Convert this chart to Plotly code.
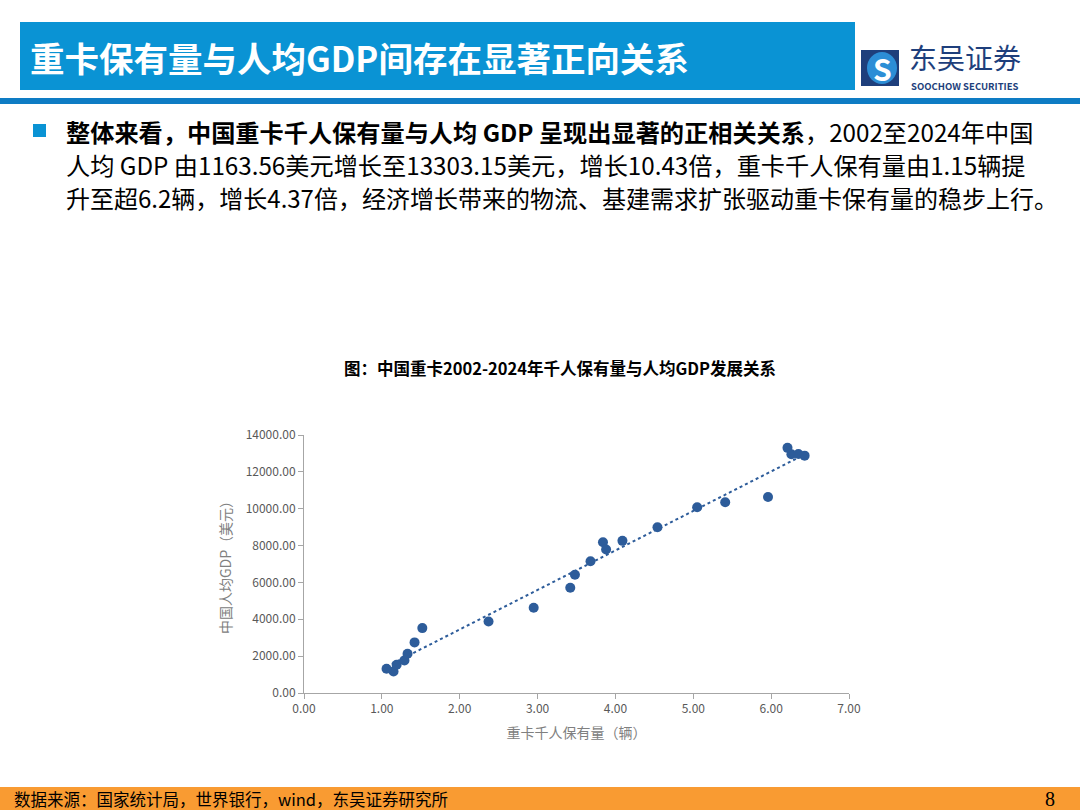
import numpy as np
import plotly.graph_objects as go

# 重卡千人保有量（辆）与人均GDP（美元），2002-2024
years = list(range(2002, 2025))
trucks_per_k = [1.15, 1.06, 1.19, 1.29, 1.33, 1.42, 1.52, 2.37, 2.95, 3.42, 3.48, 3.68,
                3.84, 3.88, 4.09, 4.54, 5.05, 5.41, 5.96, 6.26, 6.35, 6.43, 6.21]
gdp_per_cap = [1163.56, 1320, 1535, 1770, 2131, 2746, 3522, 3884, 4624, 5708, 6413, 7153,
               8183, 7785, 8255, 8996, 10080, 10350, 10640, 12952, 12970, 12880, 13303.15]

x_ticks = [0, 1, 2, 3, 4, 5, 6, 7]
y_ticks = [0, 2000, 4000, 6000, 8000, 10000, 12000, 14000]

W, H = 1080, 810


def px(x):
    return x / W


def py(y):
    return 1 - y / H


FONT = "Noto Sans CJK SC"
BLUE = "#2D5C9A"

# linear trendline fitted to the points
k, b = np.polyfit(trucks_per_k, gdp_per_cap, 1)
tx = np.array([min(trucks_per_k), max(trucks_per_k)])

fig = go.Figure()
fig.add_trace(go.Scatter(
    x=tx, y=k * tx + b, mode="lines",
    line=dict(color=BLUE, width=2, dash="dot"),
    hoverinfo="skip", showlegend=False,
))
fig.add_trace(go.Scatter(
    x=trucks_per_k, y=gdp_per_cap, mode="markers",
    marker=dict(color=BLUE, size=10),
    text=years, showlegend=False,
))

shapes = [
    # header box
    dict(type="rect", x0=px(20), x1=px(855), y0=py(90), y1=py(22),
         fillcolor="#0A93D4", line_width=0, layer="below"),
    # blue rule under header
    dict(type="rect", x0=0, x1=1, y0=py(104), y1=py(98),
         fillcolor="#0E7CC4", line_width=0, layer="below"),
    # logo square
    dict(type="rect", x0=px(861), x1=px(899), y0=py(86), y1=py(50),
         fillcolor="#1E3F7C", line_width=0),
    dict(type="circle", x0=px(867), x1=px(897), y0=py(84), y1=py(52),
         fillcolor="#2C8ED6", line_width=0),
    # bullet square
    dict(type="rect", x0=px(33), x1=px(46), y0=py(137), y1=py(124),
         fillcolor="#0A93D4", line_width=0),
    # footer bar
    dict(type="rect", x0=0, x1=1, y0=0, y1=py(787),
         fillcolor="#F99B32", line_width=0, layer="below"),
]
for s in shapes:
    s.update(xref="paper", yref="paper")


def note(text, x, y, size, color="black", anchor="left", family=FONT):
    return dict(text=text, x=px(x), y=py(y), xref="paper", yref="paper",
                xanchor=anchor, yanchor="middle", showarrow=False,
                font=dict(family=family, size=size, color=color))


annotations = [
    note("<b>重卡保有量与人均GDP间存在显著正向关系</b>", 28, 57, 34.5, "white"),
    note("<b>S</b>", 882, 68, 30, "white", "center"),
    note("东吴证券", 907, 57, 28, "#1E3F7C"),
    note("<b>SOOCHOW SECURITIES</b>", 909, 86, 9.5, "#1E3F7C"),
    note("<b>整体来看，中国重卡千人保有量与人均 GDP 呈现出显著的正相关关系</b>，2002至2024年中国", 64, 131, 24.2),
    note("人均 GDP 由1163.56美元增长至13303.15美元，增长10.43倍，重卡千人保有量由1.15辆提", 64, 164, 24.2),
    note("升至超6.2辆，增长4.37倍，经济增长带来的物流、基建需求扩张驱动重卡保有量的稳步上行。", 64, 197, 24),
    note("<b>图：中国重卡2002-2024年千人保有量与人均GDP发展关系</b>", 560, 368, 16.5, anchor="center"),
    note("数据来源：国家统计局，世界银行，wind，东吴证券研究所", 12, 799, 16.5),
    note("8", 1050, 799, 20, anchor="center", family="Liberation Serif"),
]

axis_common = dict(
    showgrid=False, zeroline=False, showline=True, linecolor="#A6A6A6", linewidth=1,
    ticks="outside", ticklen=5, tickcolor="#A6A6A6", tickformat=".2f", automargin=False,
    tickfont=dict(family=FONT, size=12, color="#595959"),
)

fig.update_layout(
    width=W, height=H,
    margin=dict(l=0, r=0, t=0, b=0, autoexpand=False),
    paper_bgcolor="white", plot_bgcolor="white",
    shapes=shapes, annotations=annotations,
    xaxis=dict(domain=[px(304), px(849)], range=[0, 7], tickvals=x_ticks,
               title=dict(text="重卡千人保有量（辆）", font=dict(family=FONT, size=14, color="#808080"),
                          standoff=12),
               **axis_common),
    yaxis=dict(domain=[py(693), py(435)], range=[0, 14000], tickvals=y_ticks,
               title=dict(text="中国人均GDP（美元）", font=dict(family=FONT, size=14, color="#808080"),
                          standoff=10),
               **axis_common),
)

# page has a default body margin; remove it so the figure fills the window
fig.write_html("out.html", config={"displayModeBar": False},
               post_script="document.body.style.margin='0';")
